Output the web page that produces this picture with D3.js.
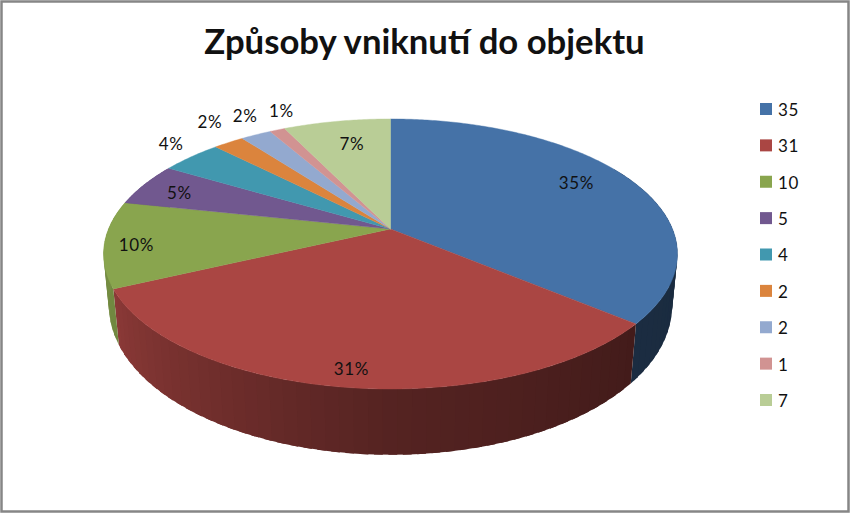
<!DOCTYPE html>
<html>
<head>
<meta charset="utf-8">
<script src="https://cdn.jsdelivr.net/npm/d3@7"></script>
<style>
  html, body { margin: 0; padding: 0; background: #fff; }
  svg { display: block; }
  text { font-family: Lato, "Noto Sans", sans-serif; fill: #111; }
</style>
</head>
<body>
<div id="chart"></div>
<script>
const chartTitle = "Způsoby vniknutí do objektu";
const values = [35, 31, 10, 5, 4, 2, 2, 1, 7];
const colors = ["#4572A7", "#AA4643", "#89A54E", "#71588F", "#4198AF", "#DB843D", "#93A9CF", "#D19392", "#B9CD96"];

const width = 850, height = 513;
// the pie is a flat disc seen in perspective, so the apex is not the middle of the ellipse
const top3d = { cx: 390.5, cy: 229, a: 130.4, b: 282, k: 0.185 };
const bottom3d = { cx: 390.5, cy: 279, a: 144.2, b: 277, k: 0.18 };
// label shift from the rim point at the middle of each slice
const labelNudge = [[-51, 5], [5.5, -18], [32, 1], [35, 9], [-20, -13], [-19, -20], [-11, -19], [4, -19], [15, 23]];

const svg = d3.select("#chart").append("svg")
    .attr("width", width)
    .attr("height", height);

svg.append("rect")
    .attr("x", 1.5).attr("y", 1.5)
    .attr("width", width - 3).attr("height", height - 3)
    .attr("fill", "#fff")
    .attr("stroke", "#868686")
    .attr("stroke-width", 2.5);

svg.append("text")
    .attr("x", 424.5).attr("y", 54)
    .attr("text-anchor", "middle")
    .attr("font-size", 34.7)
    .attr("font-weight", 700)
    .text(chartTitle);

const color = d3.scaleOrdinal().domain(d3.range(values.length)).range(colors);
const arcs = d3.pie().sort(null).value(d => d)(values);

function project(p, angle) {
    const X = Math.sin(angle), Y = -Math.cos(angle);
    const d = 1 - p.k * Y;
    return [p.cx + p.b * X / d, p.cy + p.a * Y / d];
}

// darkening of the side wall, by clockwise angle in degrees
const shade = d3.scaleLinear().domain([90, 130, 180, 245, 280]).range([0.37, 0.39, 0.5, 0.82, 0.88]).clamp(true);

function darker(c, f) {
    const rgb = d3.rgb(c);
    return d3.rgb(rgb.r * f, rgb.g * f, rgb.b * f).formatHex();
}

// side wall, thin strips that overlap the next one so no seams show
const sides = svg.append("g");
const stripDeg = 2.5;
const overlap = 1.5 * Math.PI / 180;
arcs.forEach(a => {
    const from = Math.max(a.startAngle, Math.PI / 3);
    const to = Math.min(a.endAngle, Math.PI * 5 / 3);
    if (to <= from) return;
    const n = Math.ceil((to - from) * 180 / Math.PI / stripDeg);
    d3.range(n).forEach(i => {
        const t0 = from + (to - from) * i / n;
        const t1 = from + (to - from) * (i + 1) / n;
        const end = i === n - 1 ? t1 : t1 + overlap;
        const pts = [project(top3d, t0), project(top3d, end), project(bottom3d, end), project(bottom3d, t0)];
        sides.append("path")
            .attr("d", d3.line()(pts) + "Z")
            .attr("fill", darker(color(a.index), shade((t0 + t1) / 2 * 180 / Math.PI)));
    });
});

// top face
const line = d3.line();
svg.append("g").selectAll("path")
    .data(arcs)
    .enter()
    .append("path")
    .attr("d", a => {
        const n = Math.max(2, Math.ceil((a.endAngle - a.startAngle) * 90));
        const rim = d3.range(n + 1).map(i => project(top3d, a.startAngle + (a.endAngle - a.startAngle) * i / n));
        return line([[top3d.cx, top3d.cy], ...rim]) + "Z";
    })
    .attr("fill", a => color(a.index))
    .attr("stroke", a => color(a.index))
    .attr("stroke-width", 0.4);

// data labels
svg.append("g").selectAll("text")
    .data(arcs)
    .enter()
    .append("text")
    .attr("x", a => project(top3d, (a.startAngle + a.endAngle) / 2)[0] + labelNudge[a.index][0])
    .attr("y", a => project(top3d, (a.startAngle + a.endAngle) / 2)[1] + labelNudge[a.index][1])
    .attr("dy", "0.35em")
    .attr("text-anchor", "middle")
    .attr("font-size", 17)
    .attr("letter-spacing", 0.6)
    .text(a => a.value + "%");

// legend
const legendY = d3.scalePoint().domain(d3.range(values.length)).range([109, 400]);
const legend = svg.append("g").selectAll("g")
    .data(values)
    .enter()
    .append("g")
    .attr("transform", (d, i) => `translate(760, ${legendY(i)})`);
legend.append("rect")
    .attr("x", 0).attr("y", -6)
    .attr("width", 12).attr("height", 12)
    .attr("fill", (d, i) => color(i));
legend.append("text")
    .attr("x", 18).attr("y", 1)
    .attr("dy", "0.35em")
    .attr("font-size", 17)
    .attr("letter-spacing", 0.6)
    .text(d => d);
</script>
</body>
</html>
